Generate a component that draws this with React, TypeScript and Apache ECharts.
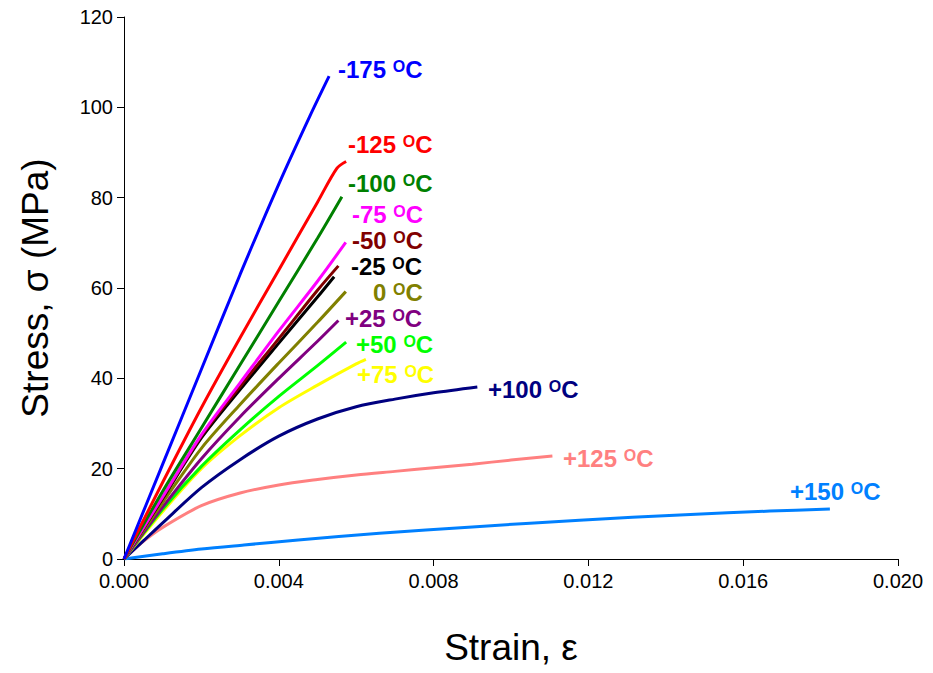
import React, { useEffect, useRef } from "react";
import * as echarts from "echarts";

// Temperature labels
const temperatures = ["-175", "-125", "-100", "-75", "-50", "-25", "0", "+25", "+50", "+75", "+100", "+125", "+150"];
const colors = ["#0000FF", "#FF0000", "#008000", "#FF00FF", "#800000", "#000000", "#808000", "#800080", "#00FF00", "#FFFF00", "#000080", "#FF8080", "#0080FF"];

// Stress-strain data [strain, stress MPa]
const dM175 = [[0, 0], [0.001, 21], [0.002, 42], [0.003, 63], [0.004, 83], [0.0048, 98], [0.0053, 106.9]];
const dM125 = [[0, 0], [0.001, 17], [0.002, 33.5], [0.003, 49], [0.004, 64], [0.005, 79], [0.0055, 86.5], [0.00574, 88]];
const dM100 = [[0, 0], [0.001, 15], [0.002, 29], [0.003, 43], [0.004, 57], [0.005, 71], [0.00563, 80.2]];
const dM75 = [[0, 0], [0.001, 13.8], [0.002, 27.5], [0.003, 39], [0.004, 50.5], [0.005, 61.5], [0.00573, 70.1]];
const dM50 = [[0, 0], [0.001, 13.6], [0.002, 27.2], [0.003, 38.2], [0.004, 48.8], [0.005, 59.5], [0.00554, 64.9]];
const dM25 = [[0, 0], [0.001, 13.4], [0.002, 26.8], [0.003, 37.5], [0.004, 47.8], [0.005, 58], [0.00543, 62.5]];
const d0 = [[0, 0], [0.001, 12.5], [0.002, 24.5], [0.003, 34.2], [0.004, 43.4], [0.005, 52.4], [0.00573, 59.2]];
const dP25 = [[0, 0], [0.001, 11.5], [0.002, 22.2], [0.003, 31.5], [0.004, 40.0], [0.005, 48.2], [0.00554, 52.8]];
const dP50 = [[0, 0], [0.001, 11.0], [0.002, 20.5], [0.003, 28.6], [0.004, 36.0], [0.005, 42.8], [0.00574, 48]];
const dP75 = [[0, 0], [0.001, 10.5], [0.002, 20], [0.003, 27.3], [0.004, 33.5], [0.005, 38.5], [0.006, 43.2], [0.00625, 44.2]];
const dP100 = [[0, 0], [0.0005, 4.0], [0.001, 8.0], [0.002, 15.8], [0.003, 22.0], [0.004, 27.2], [0.005, 31.0], [0.006, 33.7], [0.007, 35.4], [0.008, 36.8], [0.00913, 38.1]];
const dP125 = [[0, 0], [0.0005, 3.9], [0.001, 7.0], [0.002, 11.8], [0.003, 14.6], [0.004, 16.4], [0.005, 17.6], [0.006, 18.6], [0.007, 19.4], [0.008, 20.2], [0.009, 21.0], [0.01, 21.9], [0.01107, 22.8]];
const dP150 = [[0, 0], [0.001, 1.15], [0.002, 2.2], [0.0031, 3.1], [0.0045, 4.2], [0.0066, 5.7], [0.009, 7.1], [0.01177, 8.6], [0.0145, 9.8], [0.01669, 10.6], [0.01824, 11.07]];

const seriesData = [dM175, dM125, dM100, dM75, dM50, dM25, d0, dP25, dP50, dP75, dP100, dP125, dP150];

// Label anchor positions (left x, centre y) in pixels
const labelPos = [
  [338, 69], [348, 144], [348, 183], [352, 214], [352, 240], [351, 266], [373, 292],
  [345, 318], [356, 344], [357, 374], [488, 389], [563, 458], [790, 491],
];

const FONT = 'Arial, "Liberation Sans", sans-serif';

export default function App() {
  const ref = useRef<HTMLDivElement>(null);
  useEffect(() => {
    if (!ref.current) return;
    const chart = echarts.init(ref.current, null, { renderer: "svg" });
    const series = seriesData.map((d, i) => ({
      type: "line",
      name: temperatures[i] + " °C",
      data: d,
      showSymbol: false,
      smooth: 0.3,
      lineStyle: { color: colors[i], width: 3 },
      itemStyle: { color: colors[i] },
      z: 2 + (seriesData.length - i),
    }));
    const graphic = temperatures.map((t, i) => ({
      type: "text",
      x: labelPos[i][0],
      y: labelPos[i][1],
      z: 100,
      style: {
        text: `{a|${t} }{s|O}{a|C}`,
        fill: colors[i],
        verticalAlign: "middle",
        align: "left",
        rich: {
          a: { fontSize: 24, fontWeight: "bold", fontFamily: FONT, fill: colors[i], lineHeight: 22 },
          s: { fontSize: 16, fontWeight: "bold", fontFamily: FONT, fill: colors[i], verticalAlign: "top", lineHeight: 6 },
        },
      },
    }));
    chart.setOption({
      animation: false,
      backgroundColor: "#ffffff",
      grid: { left: 124, right: 35, top: 17, bottom: 114, containLabel: false },
      xAxis: {
        type: "value",
        min: 0,
        max: 0.02,
        interval: 0.004,
        name: "Strain, ε",
        nameLocation: "middle",
        nameGap: 70,
        nameTextStyle: { fontSize: 37, color: "#000", fontFamily: FONT },
        axisLine: { show: true, lineStyle: { color: "#000", width: 1 } },
        axisTick: { show: true, length: 7, inside: false, lineStyle: { color: "#000" } },
        axisLabel: { fontSize: 20, color: "#000", fontFamily: FONT, margin: 12, formatter: (v: number) => v.toFixed(3) },
        splitLine: { show: false },
      },
      yAxis: {
        type: "value",
        min: 0,
        max: 120,
        interval: 20,
        name: "Stress, σ (MPa)",
        nameLocation: "middle",
        nameGap: 70,
        nameTextStyle: { fontSize: 37, color: "#000", fontFamily: FONT },
        axisLine: { show: true, lineStyle: { color: "#000", width: 1 } },
        axisTick: { show: true, length: 7, inside: false, lineStyle: { color: "#000" } },
        axisLabel: { fontSize: 20, color: "#000", fontFamily: FONT, margin: 11 },
        splitLine: { show: false },
      },
      series,
      graphic,
    });
    return () => chart.dispose();
  }, []);
  return <div ref={ref} style={{ position: "absolute", left: 0, top: 0, width: 933, height: 673 }} />;
}
